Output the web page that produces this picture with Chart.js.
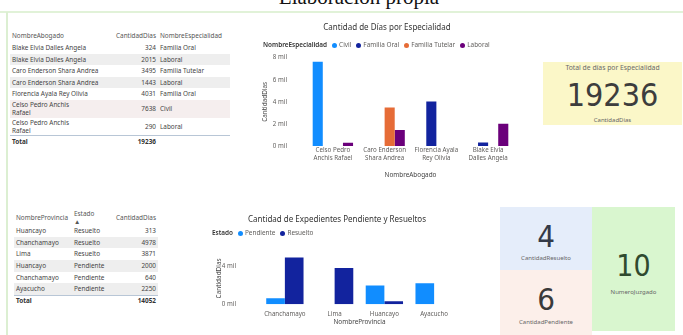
<!DOCTYPE html>
<html>
<head>
<meta charset="utf-8">
<script src="https://cdn.jsdelivr.net/npm/chart.js@4.4.1/dist/chart.umd.min.js"></script>
<style>
  html,body{margin:0;padding:0;background:#fff;}
  body{width:683px;height:335px;position:relative;overflow:hidden;font-family:'Segoe UI','Noto Sans','Open Sans',sans-serif;}
  .abs{position:absolute;}
  #cap{left:0;width:718px;top:-13px;text-align:center;font-family:'Liberation Serif','Times New Roman',serif;font-size:21px;line-height:21px;color:#111;}
  #hline{left:0;top:11px;width:683px;height:2px;background:#e1f2d8;}
  #vline{left:6px;top:12px;width:2px;height:323px;background:#dcefd2;}
  table{border-collapse:collapse;font-size:6.4px;color:#444;}
  td{padding:0 2px;line-height:7.6px;height:11.6px;vertical-align:middle;white-space:nowrap;}
  .num{text-align:right;}
  .hdr td{color:#555;height:12px;}
  .sh{background:#eeeeee;}
  .pk{background:#f5eeee;}
  .tot td{font-weight:bold;color:#333;border-top:1px solid #b8c6d6;height:11px;}
  .leg{font-size:6.4px;color:#605e5c;white-space:nowrap;}
  .leg b{font-weight:600;color:#333;}
  .dot{display:inline-block;width:5px;height:5px;border-radius:50%;margin:0 2px 0 5px;vertical-align:-0.5px;}
  .card{text-align:center;}
  .lbl{font-size:6px;color:#666;white-space:nowrap;}
  .big{font-family:'Liberation Sans Narrow','DejaVu Sans Condensed',sans-serif;color:#3d3d3d;}
</style>
</head>
<body>
<div id="cap" class="abs">Elaboración propia</div>
<div id="hline" class="abs"></div>
<div id="vline" class="abs"></div>

<div class="abs" style="left:10px;top:30px;width:222px;"><table id="t1" style="width:220px;"></table></div>
<div class="abs" style="left:14px;top:210px;width:146px;"><table id="t2" style="width:144px;"></table></div>

<canvas id="c1" class="abs" style="left:255px;top:18px;"></canvas>
<div id="leg1" class="abs leg" style="left:263px;top:40px;"></div>

<canvas id="c2" class="abs" style="left:215px;top:208px;"></canvas>
<div id="leg2" class="abs leg" style="left:212px;top:228px;"></div>

<div class="abs card" style="left:543px;top:62px;width:139px;height:63px;background:#fbf7c8;">
  <div class="lbl" style="position:absolute;left:0;width:139px;top:1px;font-size:6.8px;color:#6a6a6a;">Total de días por Especialidad</div>
  <div class="big" id="k1" style="position:absolute;left:0;width:139px;top:15px;font-size:32px;line-height:36px;"></div>
  <div class="lbl" style="position:absolute;left:0;width:139px;top:54px;">CantidadDias</div>
</div>
<div class="abs card" style="left:500px;top:207px;width:92px;height:63px;background:#e5edfa;">
  <div class="big" id="k2" style="position:absolute;left:0;width:92px;top:12px;font-size:31px;line-height:34px;color:#343a48;"></div>
  <div class="lbl" style="position:absolute;left:0;width:92px;top:47px;">CantidadResuelto</div>
</div>
<div class="abs card" style="left:500px;top:270px;width:92px;height:65px;background:#fcefea;">
  <div class="big" id="k3" style="position:absolute;left:0;width:92px;top:12px;font-size:31px;line-height:34px;color:#3a3a3a;"></div>
  <div class="lbl" style="position:absolute;left:0;width:92px;top:48px;">CantidadPendiente</div>
</div>
<div class="abs card" style="left:592px;top:207px;width:83px;height:124px;background:#d9f6cf;">
  <div class="big" id="k4" style="position:absolute;left:0;width:83px;top:42px;font-size:30px;line-height:34px;color:#2f4a2f;"></div>
  <div class="lbl" style="position:absolute;left:0;width:83px;top:81px;">NumeroJuzgado</div>
</div>

<script>
// ---------- data: chart 1 ----------
const abogados = ["Celso Pedro Anchis Rafael", "Caro Enderson Shara Andrea", "Florencia Ayala Rey Olivia", "Blake Elvia Dalles Angela"];
const abogadoLabels = [["Celso Pedro","Anchis Rafael"], ["Caro Enderson","Shara Andrea"], ["Florencia Ayala","Rey Olivia"], ["Blake Elvia","Dalles Angela"]];
const especialidades = ["Civil", "Familia Oral", "Familia Tutelar", "Laboral"];
const civil = [7638, null, null, null];
const familiaOral = [null, null, 4031, 324];
const familiaTutelar = [null, 3495, null, null];
const laboral = [290, 1443, null, 2015];
const diasTicks = [0, 2000, 4000, 6000, 8000];

// ---------- data: chart 2 ----------
const provincias = ["Chanchamayo", "Lima", "Huancayo", "Ayacucho"];
const estados = ["Pendiente", "Resuelto"];
const pendiente = [640, null, 2000, 2250];
const resuelto = [4978, 3871, 313, null];
const expTicks = [0, 4000];

// ---------- data: cards ----------
const totalDias = 19236;
const cantResuelto = 4;
const cantPendiente = 6;
const numJuzgado = 10;

// ---------- tables ----------
const t1Rows = [
  ["Blake Elvia Dalles Angela", 324, "Familia Oral"],
  ["Blake Elvia Dalles Angela", 2015, "Laboral"],
  ["Caro Enderson Shara Andrea", 3495, "Familia Tutelar"],
  ["Caro Enderson Shara Andrea", 1443, "Laboral"],
  ["Florencia Ayala Rey Olivia", 4031, "Familia Oral"],
  ["Celso Pedro Anchis<br>Rafael", 7638, "Civil"],
  ["Celso Pedro Anchis<br>Rafael", 290, "Laboral"]
];
const t2Rows = [
  ["Huancayo", "Resuelto", 313],
  ["Chanchamayo", "Resuelto", 4978],
  ["Lima", "Resuelto", 3871],
  ["Huancayo", "Pendiente", 2000],
  ["Chanchamayo", "Pendiente", 640],
  ["Ayacucho", "Pendiente", 2250]
];

const C = {blue:'#118DFF', navy:'#12239E', orange:'#E66C37', purple:'#6B007B'};
const espColors = [C.blue, C.navy, C.orange, C.purple];
const estColors = [C.blue, C.navy];

// build table 1
(function(){
  let h = '<tr class="hdr"><td>NombreAbogado</td><td class="num">CantidadDias</td><td>NombreEspecialidad</td></tr>';
  let sum = 0;
  t1Rows.forEach((r,i)=>{
    sum += r[1];
    const cls = i===5 ? 'pk' : (i%2===1 ? 'sh' : '');
    const tall = r[0].indexOf('<br>')>=0 ? ' style="height:18px"' : '';
    h += `<tr class="${cls}"${tall}><td>${r[0]}</td><td class="num">${r[1]}</td><td>${r[2]}</td></tr>`;
  });
  h += `<tr class="tot"><td>Total</td><td class="num">${sum}</td><td></td></tr>`;
  document.getElementById('t1').innerHTML = h;
  document.getElementById('t1').querySelectorAll('td:first-child').forEach(td=>td.style.width='96px');
})();
(function(){
  let h = '<tr class="hdr"><td>NombreProvincia</td><td>Estado<br>▲</td><td class="num">CantidadDias</td></tr>';
  let sum = 0;
  t2Rows.forEach((r,i)=>{
    sum += r[2];
    const cls = (i%2===1 ? 'sh' : '');
    h += `<tr class="${cls}" style="height:10.8px"><td style="height:10.8px">${r[0]}</td><td>${r[1]}</td><td class="num">${r[2]}</td></tr>`;
  });
  h += `<tr class="tot"><td>Total</td><td></td><td class="num">${sum}</td></tr>`;
  document.getElementById('t2').innerHTML = h;
  document.getElementById('t2').querySelectorAll('td:first-child').forEach(td=>td.style.width='54px');
})();

// legends
document.getElementById('leg1').innerHTML = '<b>NombreEspecialidad</b>' +
  especialidades.map((e,i)=>`<span class="dot" style="background:${espColors[i]}"></span>${e}`).join('');
document.getElementById('leg2').innerHTML = '<b>Estado</b>' +
  estados.map((e,i)=>`<span class="dot" style="background:${estColors[i]}"></span>${e}`).join('');

// cards
document.getElementById('k1').textContent = totalDias;
document.getElementById('k2').textContent = cantResuelto;
document.getElementById('k3').textContent = cantPendiente;
document.getElementById('k4').textContent = numJuzgado;

// ---------- charts ----------
const FF = "'Segoe UI','Noto Sans','Open Sans',sans-serif";
Chart.defaults.font.family = FF;
Chart.defaults.color = '#605E5C';
const milFmt = v => (v/1000) + ' mil';

function setSize(id,w,h){const c=document.getElementById(id);c.width=w;c.height=h;c.style.width=w+'px';c.style.height=h+'px';}
setSize('c1',262,172);
setSize('c2',255,124);

const noGrid = {display:false, drawTicks:false, tickLength:0};

new Chart(document.getElementById('c1'), {
  type:'bar',
  data:{
    labels: abogadoLabels,
    datasets: [civil, familiaOral, familiaTutelar, laboral].map((d,i)=>({
      label: especialidades[i], data: d, backgroundColor: espColors[i],
      barPercentage: 1, categoryPercentage: 0.78
    }))
  },
  options:{
    responsive:false, animation:false, devicePixelRatio:1,
    layout:{padding:{left:5,right:3,top:0,bottom:10}},
    plugins:{
      legend:{display:false}, tooltip:{enabled:false},
      title:{display:true, text:'Cantidad de Días por Especialidad', color:'#333',
        font:{size:8, family:FF, weight:'normal'}, padding:{top:5.2,bottom:24.9}}
    },
    scales:{
      x:{
        grid:noGrid, border:{display:false},
        ticks:{font:{size:6.2}, padding:1, maxRotation:0, autoSkip:false, color:'#605E5C'},
        title:{display:true, text:'NombreAbogado', font:{size:6.4}, color:'#444', padding:{top:2,bottom:1}},
        afterFit(s){ s.height = 34; }
      },
      y:{
        min:0, max:8000,
        grid:noGrid, border:{display:false},
        ticks:{stepSize:2000, font:{size:6.2}, padding:20, callback:milFmt, color:'#605E5C'},
        afterBuildTicks(s){ s.ticks = diasTicks.map(v=>({value:v})); },
        title:{display:true, text:'CantidadDias', font:{size:6.4}, color:'#444', padding:{top:1,bottom:0}},
        afterFit(s){ s.width = 47; }
      }
    }
  }
});

new Chart(document.getElementById('c2'), {
  type:'bar',
  data:{
    labels: provincias,
    datasets: [pendiente, resuelto].map((d,i)=>({
      label: estados[i], data: d, backgroundColor: estColors[i],
      barPercentage: 1, categoryPercentage: 0.75
    }))
  },
  options:{
    responsive:false, animation:false, devicePixelRatio:1,
    layout:{padding:{left:0,right:11,top:0,bottom:4}},
    plugins:{
      legend:{display:false}, tooltip:{enabled:false},
      title:{display:true, text:'Cantidad de Expedientes Pendiente y Resueltos', color:'#333',
        font:{size:8, family:FF, weight:'normal'}, padding:{top:7.2,bottom:27.8}}
    },
    scales:{
      x:{
        grid:noGrid, border:{display:false},
        ticks:{font:{size:6.2}, padding:6, maxRotation:0, autoSkip:false, color:'#605E5C'},
        title:{display:true, text:'NombreProvincia', font:{size:6.4}, color:'#444', padding:{top:0,bottom:1.5}},
        afterFit(s){ s.height = 23.7; }
      },
      y:{
        min:0, max:5500,
        grid:noGrid, border:{display:false},
        ticks:{stepSize:4000, font:{size:6.2}, padding:24, callback:milFmt, color:'#605E5C'},
        afterBuildTicks(s){ s.ticks = expTicks.map(v=>({value:v})); },
        title:{display:true, text:'CantidadDias', font:{size:6.4}, color:'#444', padding:{top:0,bottom:0}},
        afterFit(s){ s.width = 45; }
      }
    }
  }
});
</script>
</body>
</html>
